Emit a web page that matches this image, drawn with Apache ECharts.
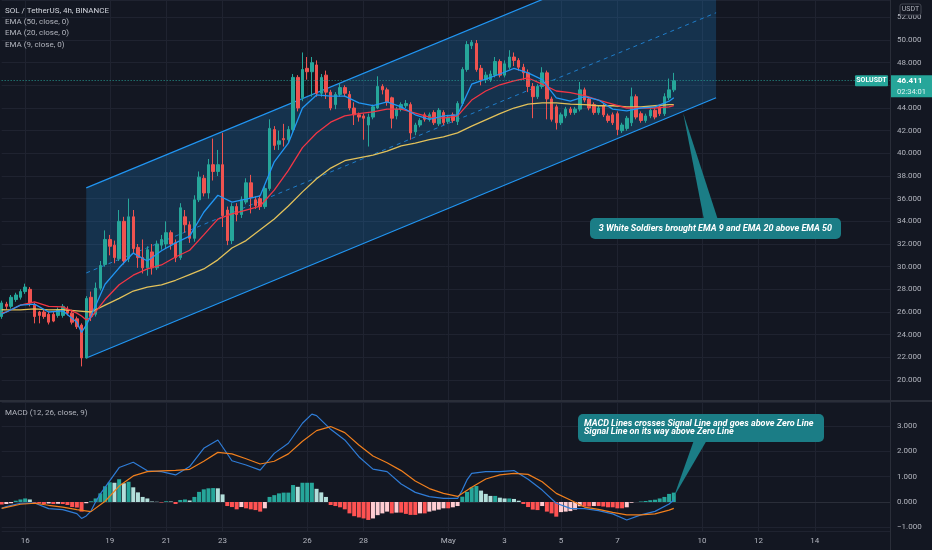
<!DOCTYPE html>
<html>
<head>
<meta charset="utf-8">
<script src="https://cdn.jsdelivr.net/npm/echarts@6/dist/echarts.min.js"></script>
<style>
html,body{margin:0;padding:0;background:#131722;}
#chart{width:932px;height:550px;}
</style>
</head>
<body>
<div id="chart"></div>
<script>
// ---- time axis (4h candles) ----
const startTime = Date.UTC(2021, 3, 15, 4);   // first category: Apr 15 04:00
const categoryCount = 190;
const tickDates  = ['04-16','04-19','04-21','04-23','04-26','04-28','05-01','05-03','05-05','05-07','05-10','05-12','05-14'];
const tickLabels = ['16','19','21','23','26','28','May','3','5','7','10','12','14'];

// ---- candles: [open, close, low, high] ----
const candles = [
  [25.6,26.8,25.4,27.0],[26.7,26.5,26.2,26.9],[26.5,27.3,26.3,27.5],[27.1,27.5,26.9,27.7],[27.3,27.8,27.1,28.0],
  [27.8,28.2,27.6,28.5],[28.0,26.8,26.5,28.2],[26.6,25.6,25.0,26.8],[26.0,25.7,25.0,26.1],[26.0,25.6,25.4,26.2],
  [25.8,25.1,24.9,26.0],[25.8,25.2,25.1,26.0],[25.7,26.2,25.5,26.4],[25.7,26.5,25.5,26.7],[26.2,25.9,25.7,26.5],
  [25.9,25.1,24.9,26.2],[25.4,24.7,24.5,25.6],[24.85,21.95,21.2,25.0],[21.95,27.2,21.9,27.4],[27.3,25.6,25.2,27.8],
  [25.8,28.1,25.6,28.6],[28.1,30.1,27.9,30.5],[30.2,32.4,30.0,33.2],[32.4,31.8,31.0,32.8],[31.9,30.8,30.3,32.3],
  [30.7,34.0,30.5,35.0],[34.0,30.5,30.2,34.4],[30.7,34.4,30.4,36.0],[34.4,31.6,31.2,35.0],[31.7,30.8,29.9,32.0],
  [30.8,29.9,29.4,32.4],[29.9,31.5,29.2,31.8],[31.3,29.9,29.3,32.0],[29.9,32.0,29.7,32.3],[31.9,32.4,31.5,32.8],
  [32.0,33.0,31.6,34.0],[33.0,32.0,31.5,33.2],[32.1,30.8,30.4,32.4],[30.8,35.2,30.6,35.6],[34.4,33.7,33.0,35.0],
  [33.7,32.5,32.1,34.0],[32.5,35.9,32.2,36.3],[35.9,37.9,35.7,38.4],[37.8,36.5,36.2,38.1],[36.5,39.0,36.0,39.5],
  [39.0,38.4,37.6,41.3],[38.4,39.0,38.0,40.3],[39.0,34.5,33.5,41.8],[35.0,32.3,31.9,35.3],[32.3,35.3,32.0,35.6],
  [35.3,34.6,34.0,35.6],[34.6,35.9,34.3,36.2],[35.7,37.4,35.5,37.8],[37.4,36.1,34.7,38.1],[35.9,35.4,35.1,36.2],
  [36.0,35.3,35.0,36.3],[35.3,36.9,35.1,37.2],[36.9,42.2,36.7,43.0],[42.1,40.7,40.3,42.4],[40.8,41.1,40.3,42.0],
  [41.3,41.2,40.6,42.6],[41.2,42.1,40.9,42.4],[42.1,46.7,41.9,47.0],[46.7,44.0,43.7,46.9],[44.9,47.4,44.6,48.9],
  [47.5,47.2,46.5,48.5],[47.2,48.0,45.0,48.5],[47.8,45.3,45.0,48.2],[45.3,46.7,45.0,47.0],[46.9,45.4,44.8,47.3],
  [45.4,44.0,43.8,45.6],[44.3,45.2,43.9,45.4],[45.2,45.8,45.0,46.2],[45.8,45.3,45.0,46.0],[45.2,44.0,43.8,45.5],
  [44.0,43.4,42.5,44.5],[43.4,43.2,42.8,43.6],[43.3,43.1,41.2,43.5],[42.5,43.2,40.6,43.5],[43.2,44.1,43.0,44.3],
  [44.0,45.9,43.9,46.8],[45.9,45.6,45.2,46.1],[45.6,44.5,44.2,45.8],[44.9,43.1,42.2,45.0],[43.3,43.9,43.0,44.1],
  [43.9,44.3,43.7,44.5],[44.2,44.4,44.0,44.7],[44.3,41.8,41.2,44.5],[41.9,42.5,41.6,42.7],[42.5,42.9,42.3,43.1],
  [43.4,43.0,42.8,43.6],[43.0,43.4,42.8,43.6],[43.6,42.7,42.5,43.8],[42.6,43.8,42.4,44.0],[43.6,42.7,42.5,43.8],
  [42.8,43.2,42.6,43.4],[43.4,42.9,42.7,43.6],[42.8,44.4,42.5,44.6],[44.4,47.4,44.2,47.6],[47.4,49.6,47.2,49.9],
  [49.5,49.8,49.2,50.0],[49.7,47.4,47.2,50.0],[47.5,46.5,46.0,47.8],[46.5,46.9,46.2,47.2],[46.5,47.0,46.3,47.3],
  [46.9,48.1,46.7,48.5],[48.1,46.9,46.7,48.3],[46.9,47.9,46.7,48.2],[47.6,48.5,47.4,49.1],[48.5,48.2,47.7,48.9],
  [48.2,47.6,47.3,48.4],[47.6,47.1,46.5,47.9],[47.1,45.9,45.4,47.4],[45.9,45.0,43.1,46.2],[45.0,45.9,44.8,46.1],
  [45.9,47.1,45.7,47.6],[47.1,44.8,43.0,47.3],[44.8,43.0,42.8,45.0],[44.1,42.7,42.1,44.3],[42.7,43.4,42.5,43.6],
  [43.3,43.9,43.1,44.1],[43.9,43.6,43.4,44.1],[43.6,43.9,43.4,44.1],[43.9,45.6,43.7,46.3],[45.6,44.7,44.5,45.8],
  [44.8,44.0,43.8,45.0],[44.3,43.6,43.4,44.5],[43.6,44.0,43.4,44.2],[44.2,43.4,43.2,44.4],[43.3,42.9,42.7,43.5],
  [43.4,42.7,42.5,43.6],[43.5,42.1,41.6,43.7],[42.0,42.5,41.8,42.7],[42.2,43.1,42.0,43.3],[42.7,45.0,42.4,45.8],
  [45.0,43.2,43.0,45.2],[43.5,42.9,42.7,43.7],[42.9,43.3,42.7,43.5],[43.3,43.8,43.1,44.0],[43.8,43.2,43.0,44.0],
  [44.1,43.5,43.3,44.3],[43.5,45.0,43.3,45.3],[44.9,45.6,44.7,46.6],[45.6,46.411,45.4,47.1]
];

// ---- EMAs: [candle index, value] ----
const ema9Points = [[0,25.8],[1,26.0],[4,26.6],[7,26.7],[10,26.0],[13,26.1],[16,25.1],[17,24.2],[18,24.85],[19,25.65],[22,28.45],[25,29.9],[28,31.2],[31,30.5],[34,31.4],[37,32.1],[40,32.7],[43,34.8],[46,36.3],[49,35.7],[52,35.95],[55,36.25],[58,39.25],[61,40.9],[64,44.0],[67,45.15],[70,45.05],[73,45.05],[76,44.45],[79,44.2],[82,44.55],[85,44.1],[88,43.4],[91,43.0],[94,43.3],[97,43.4],[100,46.1],[103,46.55],[106,47.0],[109,47.5],[112,47.1],[115,46.5],[118,44.9],[121,44.6],[124,45.0],[127,44.7],[130,43.9],[133,43.75],[136,44.0],[139,44.1],[142,44.6],[143,44.9]];
const ema20Points = [[0,25.9],[1,26.0],[4,26.6],[7,26.9],[10,26.5],[13,26.45],[16,25.9],[17,25.65],[18,25.3],[19,25.5],[22,27.1],[25,28.4],[28,29.25],[31,29.8],[34,30.15],[37,30.85],[40,31.45],[43,32.8],[46,34.2],[49,34.65],[52,35.0],[55,35.35],[58,36.75],[61,38.5],[64,40.5],[67,41.8],[70,42.75],[73,43.3],[76,43.5],[79,43.65],[82,43.9],[85,43.9],[88,43.55],[91,43.2],[94,43.1],[97,43.3],[100,44.7],[103,45.5],[106,46.05],[109,46.4],[112,46.65],[115,46.1],[118,45.5],[121,45.35],[124,45.1],[127,44.7],[130,44.35],[133,44.0],[136,44.0],[139,44.0],[142,44.1],[143,44.2]];
const ema50Points = [[0,26.2],[1,26.18],[4,26.18],[7,26.27],[10,26.18],[13,26.2],[16,26.1],[19,26.0],[22,26.6],[25,27.2],[28,27.85],[31,28.2],[34,28.4],[37,28.8],[40,29.3],[43,29.8],[46,30.6],[49,31.65],[52,32.3],[55,33.25],[58,34.2],[61,35.35],[64,36.6],[67,37.75],[70,38.7],[73,39.35],[76,39.6],[79,39.85],[82,40.2],[85,40.65],[88,40.9],[91,41.2],[94,41.45],[97,41.8],[100,42.4],[103,42.95],[106,43.5],[109,44.0],[112,44.35],[115,44.45],[118,44.45],[121,44.35],[124,44.3],[127,44.2],[130,44.2],[133,44.1],[136,44.1],[139,44.2],[142,44.3],[143,44.3]];

// ---- MACD (12, 26, close, 9) ----
const macdPoints = [[0,-0.25],[1,-0.18],[4,-0.05],[7,-0.04],[10,-0.26],[13,-0.30],[16,-0.46],[17,-0.65],[18,-0.55],[19,-0.36],[20,0.01],[21,0.32],[22,0.58],[25,1.36],[28,1.57],[31,1.23],[34,1.2],[37,1.07],[40,1.40],[43,2.12],[46,2.45],[49,1.63],[52,1.46],[55,1.26],[58,1.92],[61,2.32],[64,3.11],[66,3.47],[67,3.41],[70,2.87],[73,2.45],[76,1.79],[79,1.30],[82,1.20],[85,0.71],[88,0.38],[91,0.21],[94,0.14],[97,0.14],[98,0.47],[99,0.87],[100,1.13],[103,1.20],[106,1.20],[109,1.24],[112,0.9],[115,0.47],[118,-0.05],[121,-0.25],[124,-0.26],[127,-0.34],[130,-0.47],[133,-0.71],[136,-0.51],[139,-0.37],[142,-0.08],[143,0.08]];
const signalPoints = [[0,-0.25],[1,-0.21],[4,-0.09],[7,-0.05],[10,-0.13],[13,-0.2],[16,-0.3],[19,-0.38],[22,0.03],[25,0.63],[28,1.03],[31,1.2],[34,1.23],[37,1.25],[40,1.29],[43,1.61],[46,1.96],[49,1.90],[52,1.71],[55,1.50],[58,1.61],[61,1.90],[64,2.40],[67,2.82],[70,2.98],[73,2.74],[76,2.25],[79,1.82],[82,1.55],[85,1.24],[88,0.83],[91,0.53],[94,0.34],[97,0.22],[100,0.58],[103,0.91],[106,1.07],[109,1.13],[112,1.09],[115,0.80],[118,0.34],[121,0.08],[124,-0.2],[127,-0.29],[130,-0.41],[133,-0.51],[136,-0.51],[139,-0.47],[142,-0.32],[143,-0.25]];
const macdHist = [
  -0.1,-0.08,-0.05,0.05,0.1,0.14,0.1,-0.03,-0.06,-0.08,
  -0.06,-0.08,-0.07,-0.08,-0.12,-0.2,-0.22,-0.38,-0.05,0.03,
  0.14,0.34,0.62,0.78,0.76,0.9,0.74,0.8,0.58,0.38,
  0.2,0.14,0.02,0.01,-0.02,0.03,0.02,-0.08,0.08,0.1,
  0.06,0.2,0.4,0.5,0.54,0.55,0.54,0.3,-0.16,-0.2,
  -0.29,-0.2,-0.25,-0.29,-0.32,-0.38,-0.25,0.2,0.27,0.34,
  0.37,0.37,0.67,0.6,0.76,0.76,0.76,0.52,0.38,0.2,
  -0.12,-0.16,-0.21,-0.29,-0.45,-0.56,-0.61,-0.65,-0.71,-0.65,
  -0.52,-0.45,-0.38,-0.45,-0.42,-0.42,-0.47,-0.51,-0.51,-0.45,
  -0.45,-0.38,-0.34,-0.3,-0.25,-0.25,-0.21,-0.16,0.21,0.4,
  0.58,0.63,0.45,0.32,0.24,0.24,0.17,0.14,0.14,0.12,
  0.05,-0.08,-0.2,-0.3,-0.32,-0.16,-0.38,-0.45,-0.58,-0.4,
  -0.38,-0.36,-0.3,-0.17,-0.18,-0.18,-0.16,-0.16,-0.18,-0.21,
  -0.21,-0.25,-0.25,-0.21,-0.03,0.0,0.02,0.04,0.07,0.09,
  0.14,0.2,0.32,0.37
];

// ---- parallel channel (candle index, price) ----
const channelX = [18, 152];
const channelLow = [21.94, 44.9];
const channelHighStart = 36.95;

// ---- labels ----
const lastPrice = 46.411;
const countdown = '02:34:01';
const symbolName = 'SOLUSDT';
const callout1Text = '3 White Soldiers brought EMA 9 and EMA 20 above EMA 50';
const callout1Anchor = [145, 43.57];
const callout2Lines = ['MACD Lines crosses Signal Line and goes above Zero Line', 'Signal Line on its way above Zero Line'];
const callout2Anchor = [143, 0.2];

// ---------------------------------------------------------------
const categories = [];
for (let k = 0; k < categoryCount; k++) {
  const d = new Date(startTime + k * 4 * 3600 * 1000);
  const mm = String(d.getUTCMonth() + 1).padStart(2, '0');
  const dd = String(d.getUTCDate()).padStart(2, '0');
  const hh = String(d.getUTCHours()).padStart(2, '0');
  categories.push(mm + '-' + dd + ' ' + hh + ':00');
}
function isTick(index) {
  const v = categories[index];
  return !!v && v.endsWith(' 00:00') && tickDates.indexOf(v.slice(0, 5)) >= 0;
}

const histData = macdHist.map((v, k) => {
  const prev = k > 0 ? macdHist[k - 1] : v;
  let c;
  if (v >= 0) c = v >= prev ? '#26a69a' : '#b2dfdb';
  else c = v <= prev ? '#ff5252' : '#ffcdd2';
  return { value: v, itemStyle: { color: c } };
});

const FONT = 'Roboto, "Liberation Sans", sans-serif';
const chart = echarts.init(document.getElementById('chart'));
const gridLeft = 1.65, gridRight = 42;

const option = {
  backgroundColor: '#131722',
  animation: false,
  textStyle: { fontFamily: FONT },
  grid: [
    { left: gridLeft, right: gridRight, top: 0, height: 400 },
    { left: gridLeft, right: gridRight, top: 402, height: 129 }
  ],
  xAxis: [
    { type: 'category', gridIndex: 0, data: categories, boundaryGap: false,
      axisLine: { show: false }, axisTick: { show: false }, axisLabel: { show: false },
      splitLine: { show: true, interval: isTick, lineStyle: { color: '#1f2330', width: 1 } } },
    { type: 'category', gridIndex: 1, data: categories, boundaryGap: false,
      axisLine: { show: true, lineStyle: { color: '#2a2e39' } }, axisTick: { show: false },
      axisLabel: { show: true, interval: isTick, color: '#b2b5be', fontSize: 8, margin: 6, fontFamily: FONT,
        formatter: (v) => tickLabels[tickDates.indexOf(v.slice(0, 5))] },
      splitLine: { show: true, interval: isTick, lineStyle: { color: '#1f2330', width: 1 } } }
  ],
  yAxis: [
    { type: 'value', gridIndex: 0, position: 'right', min: 18.235, max: 53.53, splitNumber: 18,
      axisLine: { show: true, lineStyle: { color: '#2a2e39' } }, axisTick: { show: false },
      axisLabel: { color: '#b2b5be', fontSize: 8, margin: 7, fontFamily: FONT,
        formatter: (v) => (Math.abs(v / 2 - Math.round(v / 2)) < 1e-6 ? v.toFixed(3) : '') },
      splitLine: { lineStyle: { color: '#1f2330' } } },
    { type: 'value', gridIndex: 1, position: 'right', min: -1.146, max: 3.95, splitNumber: 5,
      axisLine: { show: true, lineStyle: { color: '#2a2e39' } }, axisTick: { show: false },
      axisLabel: { color: '#b2b5be', fontSize: 8, margin: 7, fontFamily: FONT,
        formatter: (v) => (Math.abs(v - Math.round(v)) < 1e-6 ? (v < 0 ? '\u2212' : '') + Math.abs(v).toFixed(3) : '') },
      splitLine: { lineStyle: { color: '#1f2330' } } }
  ],
  series: [
    { type: 'custom', name: 'channel', xAxisIndex: 0, yAxisIndex: 0, z: 1, silent: true,
      data: [[channelX[0], channelLow[0]]],
      encode: { x: 0, y: 1 },
      renderItem: function (params, api) {
        const rise = channelLow[1] - channelLow[0];
        const p1 = api.coord([channelX[0], channelLow[0]]);
        const p2 = api.coord([channelX[1], channelLow[1]]);
        const p3 = api.coord([channelX[1], channelHighStart + rise]);
        const p4 = api.coord([channelX[0], channelHighStart]);
        const m1 = [(p1[0] + p4[0]) / 2, (p1[1] + p4[1]) / 2];
        const m2 = [(p2[0] + p3[0]) / 2, (p2[1] + p3[1]) / 2];
        return { type: 'group', children: [
          { type: 'polygon', shape: { points: [p1, p2, p3, p4] }, style: { fill: 'rgba(33,150,243,0.21)' } },
          { type: 'line', shape: { x1: p1[0], y1: p1[1], x2: p2[0], y2: p2[1] }, style: { stroke: '#2196f3', lineWidth: 1.2 } },
          { type: 'line', shape: { x1: p4[0], y1: p4[1], x2: p3[0], y2: p3[1] }, style: { stroke: '#2196f3', lineWidth: 1.2 } },
          { type: 'line', shape: { x1: m1[0], y1: m1[1], x2: m2[0], y2: m2[1] }, style: { stroke: 'rgba(33,150,243,0.75)', lineWidth: 1, lineDash: [4, 4] } }
        ] };
      } },
    { type: 'candlestick', name: 'SOLUSDT', xAxisIndex: 0, yAxisIndex: 0, z: 3, barWidth: 3,
      data: candles,
      itemStyle: { color: '#26a69a', color0: '#ef5350', borderColor: '#26a69a', borderColor0: '#ef5350', borderWidth: 1 },
      markLine: { silent: true, symbol: ['none', 'none'], label: { show: false },
        lineStyle: { color: '#26a69a', type: [1, 2], width: 1, opacity: 0.9 },
        data: [{ yAxis: lastPrice }] } },
    { type: 'line', name: 'EMA 50', xAxisIndex: 0, yAxisIndex: 0, z: 4, data: ema50Points, showSymbol: false,
      lineStyle: { color: '#e2c15a', width: 1.3 } },
    { type: 'line', name: 'EMA 20', xAxisIndex: 0, yAxisIndex: 0, z: 4, data: ema20Points, showSymbol: false,
      lineStyle: { color: '#f23645', width: 1.3 } },
    { type: 'line', name: 'EMA 9', xAxisIndex: 0, yAxisIndex: 0, z: 4, data: ema9Points, showSymbol: false,
      lineStyle: { color: '#2196f3', width: 1.3 } },
    { type: 'bar', name: 'Histogram', xAxisIndex: 1, yAxisIndex: 1, z: 2, barWidth: 4, data: histData },
    { type: 'line', name: 'MACD', xAxisIndex: 1, yAxisIndex: 1, z: 4, data: macdPoints, showSymbol: false,
      lineStyle: { color: '#2f7cd6', width: 1.2 } },
    { type: 'line', name: 'Signal', xAxisIndex: 1, yAxisIndex: 1, z: 4, data: signalPoints, showSymbol: false,
      lineStyle: { color: '#f07f1d', width: 1.2 } }
  ]
};
chart.setOption(option);

function txt(x, y, text, fill, font, align, valign, z) {
  return { type: 'text', z: z || 100, x: x, y: y,
    style: { text: text, fill: fill, font: font, align: align || 'left', verticalAlign: valign || 'middle',
      textAlign: align || 'left', textVerticalAlign: valign || 'middle' } };
}

const yp = chart.convertToPixel({ xAxisIndex: 0, yAxisIndex: 0 }, [0, lastPrice])[1];
const a1 = chart.convertToPixel({ xAxisIndex: 0, yAxisIndex: 0 }, callout1Anchor);
const a2 = chart.convertToPixel({ xAxisIndex: 1, yAxisIndex: 1 }, callout2Anchor);
const calloutFill = '#1b7d86';

chart.setOption({
  graphic: [
    // panel separators
    { type: 'line', z: 90, shape: { x1: 0, y1: 401, x2: 932, y2: 401 }, style: { stroke: '#2a2e39', lineWidth: 2 } },
    { type: 'line', z: 90, shape: { x1: 890.5, y1: 0, x2: 890.5, y2: 550 }, style: { stroke: '#2a2e39', lineWidth: 1 } },
    // legend texts
    txt(5, 10.7, 'SOL / TetherUS, 4h, BINANCE', '#d1d4dc', '8px ' + FONT),
    txt(5, 22, 'EMA (50, close, 0)', '#b2b5be', '8px ' + FONT),
    txt(5, 33, 'EMA (20, close, 0)', '#b2b5be', '8px ' + FONT),
    txt(5, 44.5, 'EMA (9, close, 0)', '#b2b5be', '8px ' + FONT),
    txt(5, 413, 'MACD (12, 26, close, 9)', '#b2b5be', '8px ' + FONT),
    // currency box
    { type: 'rect', z: 100, shape: { x: 900, y: 4, width: 21, height: 11, r: 2 }, style: { fill: '#131722', stroke: '#434651', lineWidth: 1 } },
    txt(910.5, 9.7, 'USDT', '#b2b5be', '7px ' + FONT, 'center'),
    // last price labels
    { type: 'rect', z: 100, shape: { x: 855, y: yp - 5.5, width: 33, height: 11, r: 1 }, style: { fill: '#26a69a' } },
    txt(871.5, yp, symbolName, '#ffffff', 'bold 7px ' + FONT, 'center'),
    { type: 'rect', z: 100, shape: { x: 891, y: yp - 5.5, width: 41, height: 22 }, style: { fill: '#26a69a' } },
    txt(897, yp, lastPrice.toFixed(3), '#ffffff', 'bold 8px ' + FONT),
    txt(897, yp + 11, countdown, '#e0f2f1', '7.5px ' + FONT),
    // callout 1
    { type: 'polygon', z: 100, shape: { points: [[704, 220], [718, 220], a1] }, style: { fill: calloutFill } },
    { type: 'rect', z: 100, shape: { x: 590, y: 218, width: 251, height: 21, r: 5 }, style: { fill: calloutFill } },
    txt(715.5, 228.7, callout1Text, '#ffffff', 'italic bold 9px ' + FONT, 'center'),
    // callout 2
    { type: 'polygon', z: 100, shape: { points: [[694, 440], [707, 440], a2] }, style: { fill: calloutFill } },
    { type: 'rect', z: 100, shape: { x: 578, y: 414, width: 246, height: 28, r: 5 }, style: { fill: calloutFill } },
    txt(584, 423.3, callout2Lines[0], '#ffffff', 'italic bold 9px ' + FONT),
    txt(584, 431.8, callout2Lines[1], '#ffffff', 'italic bold 9px ' + FONT)
  ]
});
</script>
</body>
</html>
